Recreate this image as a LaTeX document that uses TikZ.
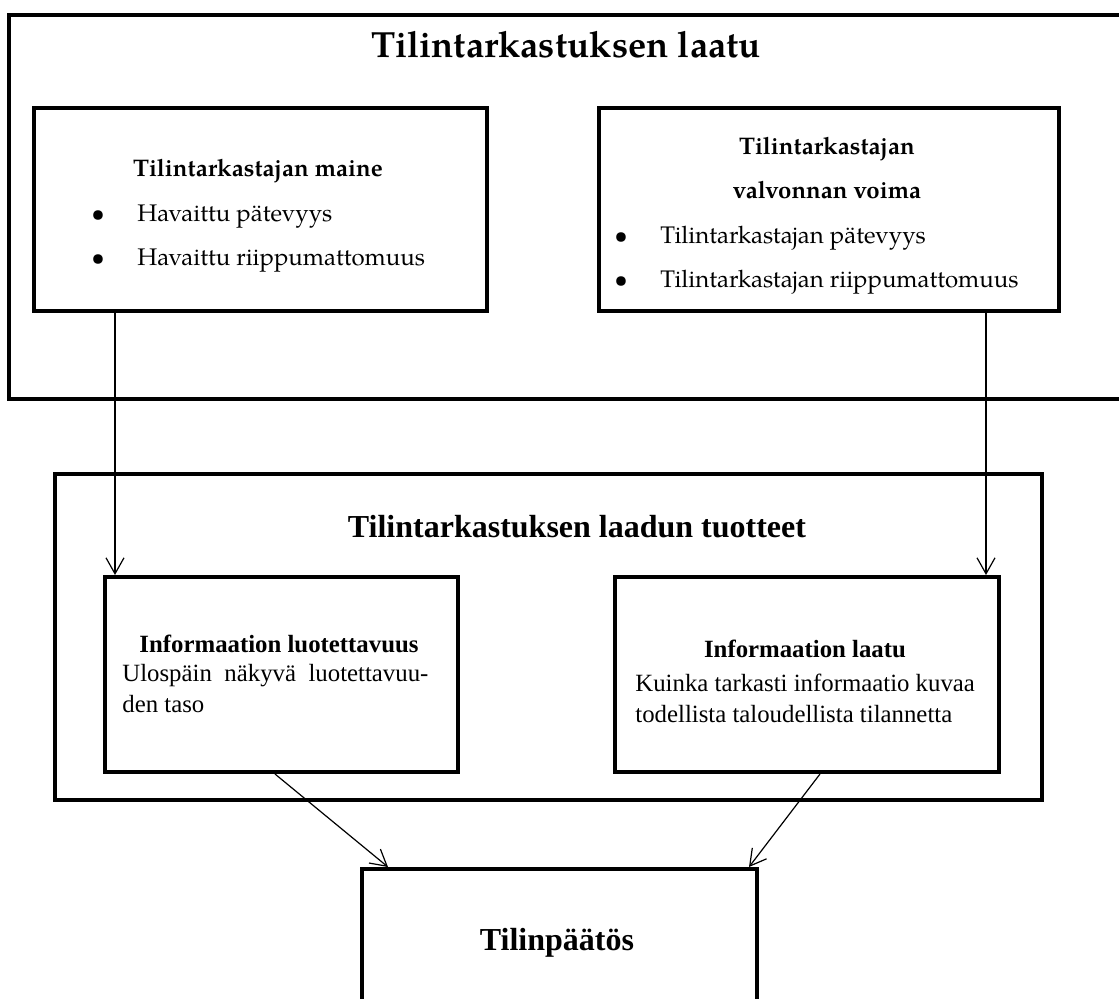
\documentclass[tikz,border=0pt]{standalone}
\usepackage{fontspec}
\setmainfont{Liberation Serif}
\newfontfamily\pala{TeX Gyre Pagella}
\usetikzlibrary{arrows.meta, positioning}

\newcommand{\pallo}{\makebox[20pt][l]{\hspace{-3pt}\textbullet}}

\begin{document}
\begin{tikzpicture}[
    x=0.5pt, y=-0.5pt,
    frame/.style={rectangle, draw, line width=2pt, anchor=north west, inner sep=0pt},
    paahead/.style={anchor=base, inner sep=0pt, font=\pala\bfseries\fontsize{18.2}{22}\selectfont},
    palatext/.style={anchor=base west, inner sep=0pt, font=\pala\fontsize{12}{22.25}\selectfont},
    palahead/.style={anchor=base, inner sep=0pt, font=\pala\bfseries\fontsize{12}{22.25}\selectfont},
    alahead/.style={anchor=base, inner sep=0pt, font=\bfseries\fontsize{16}{19}\selectfont},
    alatext/.style={anchor=base west, inner sep=0pt, font=\fontsize{12.4}{15.5}\selectfont},
    boldtext/.style={anchor=base, inner sep=0pt, font=\bfseries\fontsize{12.4}{15.5}\selectfont},
    arrow/.style={-{Straight Barb[length=8pt, width=9pt]}, line width=0.6pt}
]
\useasboundingbox (0,0) rectangle (1119,998);

% Tilintarkastuksen laatu
\node [frame, minimum width=564pt, minimum height=192pt] (laatu) at (7,13) {};
\node [paahead] (laatuotsikko) at (566,57) {Tilintarkastuksen laatu};

% Maine
\node [frame, minimum width=226.5pt, minimum height=101.5pt] (maine) at (32,106) {};
\node [palahead] (maineotsikko) at (258,176) {Tilintarkastajan maine};
\node [palatext] (maineluettelo) at (97,221) {\parbox[t]{200pt}{\pala\fontsize{12}{22.25}\selectfont
    \pallo Havaittu pätevyys\\
    \pallo Havaittu riippumattomuus}};

% Valvonnan voima
\node [frame, minimum width=230pt, minimum height=101.5pt] (valvonta) at (597,106) {};
\node [palahead] (valvontaotsikko) at (827,154) {\parbox[t]{200pt}{\centering\pala\bfseries\fontsize{12}{22}\selectfont
    Tilintarkastajan\\valvonnan voima}};
\node [palatext] (valvontaluettelo) at (620,243) {\parbox[t]{215pt}{\pala\fontsize{12}{22}\selectfont
    \pallo Tilintarkastajan pätevyys\\
    \pallo Tilintarkastajan riippumattomuus}};

% Laadun tuotteet
\node [frame, minimum width=493.5pt, minimum height=163pt] (tuotteet) at (53,472) {};
\node [alahead] (tuotteetotsikko) at (577,537) {Tilintarkastuksen laadun tuotteet};

\node [frame, minimum width=176.5pt, minimum height=97.5pt] (luotettavuus) at (103,575) {};
\node [boldtext] (luototsikko) at (279,652) {Informaation luotettavuus};
\node [alatext] (luotteksti) at (122,681) {\parbox[t]{153pt}{\fontsize{12.4}{15.5}\selectfont
    Ulospäin\hfill näkyvä\hfill luotettavuu-\\den taso}};

\node [frame, minimum width=192pt, minimum height=97.5pt] (infolaatu) at (613,575) {};
\node [boldtext] (infootsikko) at (805,657) {Informaation laatu};
\node [alatext] (infoteksti) at (635,691) {\parbox[t]{175pt}{\fontsize{12.4}{15.5}\selectfont
    Kuinka tarkasti informaatio kuvaa\\todellista taloudellista tilannetta}};

% Tilinpäätös
\node [frame, minimum width=197.5pt, minimum height=100pt] (tilinpaatos) at (360,867) {};
\node [alahead] (tilinpaatosteksti) at (557,950) {Tilinpäätös};

% Nuolet
\draw [arrow] ([xshift=41.5pt]maine.south west) -- ([xshift=6pt]luotettavuus.north west);
\draw [arrow] ([xshift=-37.5pt]valvonta.south east) -- ([xshift=-7.5pt]infolaatu.north east);
\draw [arrow] ([xshift=-3.25pt]luotettavuus.south) -- ([xshift=14pt]tilinpaatos.north west);
\draw [arrow] ([xshift=6.5pt]infolaatu.south) -- ([xshift=-5pt]tilinpaatos.north east);

\end{tikzpicture}
\end{document}
